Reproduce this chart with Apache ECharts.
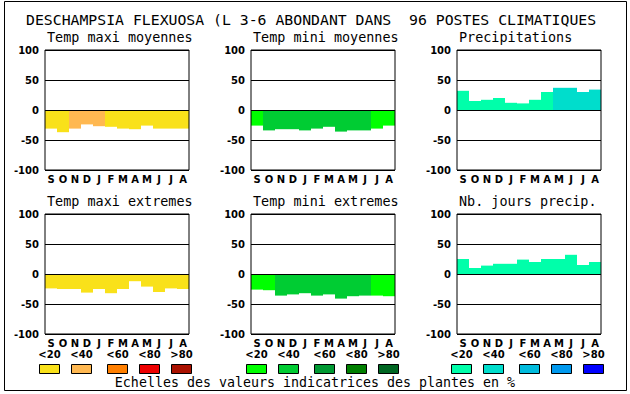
<!DOCTYPE html>
<html><head><meta charset="utf-8">
<script src="https://cdn.jsdelivr.net/npm/echarts@6/dist/echarts.min.js"></script>
<style>html,body{margin:0;padding:0;background:#fff}#c{width:630px;height:394px}</style>
</head><body><div id="c"></div><script>
// ---- data ----
const mainTitle = 'DESCHAMPSIA FLEXUOSA (L 3-6 ABONDANT DANS  96 POSTES CLIMATIQUES';
const footerText = 'Echelles des valeurs indicatrices des plantes en %';
const months = ['S','O','N','D','J','F','M','A','M','J','J','A'];
const yTickMin = -100, yTickMax = 100, yTickStep = 50;
const legendLabels = ['<20','<40','<60','<80','>80'];

const tempPalette  = ['#F9E11A','#FFB851','#FF7F00','#EE0000','#AA1100'];
const greenPalette = ['#00FF00','#00CC33','#009933','#007F00','#006622'];
const bluePalette  = ['#00FFAA','#00DDCC','#00BBDD','#0099EE','#0000FF'];

const maxMoyTitle = 'Temp maxi moyennes';
const maxMoy      = [-31,-37,-31,-24,-27,-28,-31,-32,-26,-31,-31,-31];
const maxMoyClass = [0,0,1,1,1,0,0,0,0,0,0,0];

const minMoyTitle = 'Temp mini moyennes';
const minMoy      = [-26,-34,-32,-32,-34,-31,-28,-36,-34,-34,-31,-26];
const minMoyClass = [0,1,1,1,1,1,1,1,1,1,0,0];

const precTitle = 'Precipitations';
const prec      = [32,15,17,20,12,11,17,30,37,37,30,34];
const precClass = [0,0,0,0,0,0,0,0,1,1,1,1];

const maxExtTitle = 'Temp maxi extremes';
const maxExt      = [-24,-25,-25,-31,-25,-32,-25,-12,-21,-30,-24,-25];
const maxExtClass = [0,0,0,0,0,0,0,0,0,0,0,0];

const minExtTitle = 'Temp mini extremes';
const minExt      = [-26,-27,-36,-34,-32,-36,-34,-41,-37,-36,-36,-37];
const minExtClass = [0,0,1,1,1,1,1,1,1,1,0,0];

const nbjTitle = 'Nb. jours precip.';
const nbj      = [25,10,14,17,17,24,20,25,25,32,15,20];
const nbjClass = [0,0,0,0,0,0,0,0,0,0,0,0];

// ---- layout ----
const colLeft = [45, 251, 457];
const rowTop = [50, 214];
const gw = 144, gh = 120;

const panels = [
  {t: maxMoyTitle, v: maxMoy, c: maxMoyClass, p: tempPalette, col: 0, row: 0},
  {t: minMoyTitle, v: minMoy, c: minMoyClass, p: greenPalette, col: 1, row: 0},
  {t: precTitle, v: prec, c: precClass, p: bluePalette, col: 2, row: 0},
  {t: maxExtTitle, v: maxExt, c: maxExtClass, p: tempPalette, col: 0, row: 1},
  {t: minExtTitle, v: minExt, c: minExtClass, p: greenPalette, col: 1, row: 1},
  {t: nbjTitle, v: nbj, c: nbjClass, p: bluePalette, col: 2, row: 1}
];

const monoFont = '"DejaVu Sans Mono", monospace';
const boldFont = '"DejaVu Sans", sans-serif';

const grid = [], xAxis = [], yAxis = [], series = [], graphic = [];

graphic.push({type: 'rect', shape: {x: 4.5, y: 1.5, width: 622, height: 389},
  style: {fill: 'none', stroke: '#000', lineWidth: 1}, silent: true});
graphic.push({type: 'text', x: 26, y: 19, style: {text: mainTitle, font: '14.8px ' + monoFont,
  fill: '#000', textAlign: 'left', textVerticalAlign: 'middle'}});

panels.forEach((pn, i) => {
  const L = colLeft[pn.col], T = rowTop[pn.row];
  grid.push({left: L, top: T, width: gw, height: gh, show: true, borderColor: '#000',
    borderWidth: 1, backgroundColor: 'transparent', z: 10});
  xAxis.push({type: 'category', gridIndex: i, data: months, position: 'bottom',
    axisLine: {show: false}, axisTick: {show: false}, splitLine: {show: false},
    axisLabel: {interval: 0, margin: 4, color: '#000', fontFamily: boldFont, fontWeight: 'bold', fontSize: 10}});
  yAxis.push({type: 'value', gridIndex: i, min: yTickMin, max: yTickMax, interval: yTickStep, z: 10,
    axisLine: {show: false}, axisTick: {show: false},
    splitLine: {show: true, lineStyle: {color: '#000', width: 1}},
    axisLabel: {margin: 6, color: '#000', fontFamily: boldFont, fontWeight: 'bold', fontSize: 10}});
  series.push({type: 'bar', xAxisIndex: i, yAxisIndex: i, barCategoryGap: '0%', silent: true,
    data: pn.v.map((val, k) => ({value: val, itemStyle: {color: pn.p[pn.c[k]]}}))});
  graphic.push({type: 'text', x: L + 2, y: T - 13, style: {text: pn.t, font: '13.45px ' + monoFont,
    fill: '#000', textAlign: 'left', textVerticalAlign: 'middle'}});
});

const legendGroupLeft = [39, 246, 451];
const legendOffsets = [0, 32, 68, 100, 132];
const palettes = [tempPalette, greenPalette, bluePalette];
legendGroupLeft.forEach((gx, g) => {
  legendOffsets.forEach((off, k) => {
    const bx = gx + off;
    graphic.push({type: 'rect', shape: {x: bx + 0.5, y: 364.5, width: 20, height: 9},
      style: {fill: palettes[g][k], stroke: '#000', lineWidth: 1}, silent: true});
    graphic.push({type: 'text', x: bx + 10.5, y: 354.5, style: {text: legendLabels[k],
      font: 'bold 10px ' + boldFont, fill: '#000', textAlign: 'center', textVerticalAlign: 'middle'}});
  });
});
graphic.push({type: 'text', x: 315, y: 382, style: {text: footerText, font: '13.3px ' + monoFont,
  fill: '#000', textAlign: 'center', textVerticalAlign: 'middle'}});

const chart = echarts.init(document.getElementById('c'), null, {renderer: 'svg'});
chart.setOption({animation: false, backgroundColor: '#fff', grid, xAxis, yAxis, series, graphic});
</script></body></html>
